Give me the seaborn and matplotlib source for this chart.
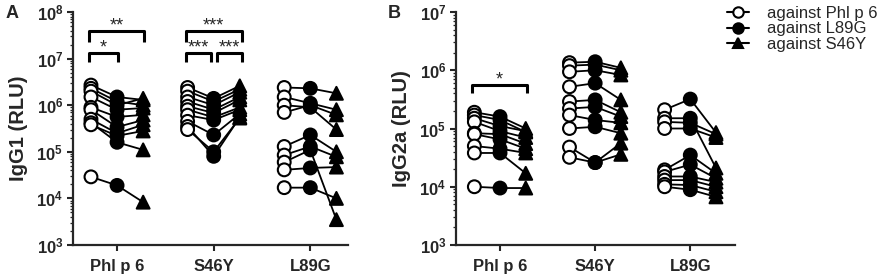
import numpy as np
import pandas as pd
import matplotlib
matplotlib.use("Agg")
import matplotlib.pyplot as plt
import seaborn as sns
from matplotlib.lines import Line2D
from matplotlib.ticker import LogLocator, NullFormatter

sns.set_style("ticks")
plt.rcParams["font.family"] = ["Liberation Sans", "DejaVu Sans"]
plt.rcParams["mathtext.fontset"] = "custom"
plt.rcParams["mathtext.rm"] = "Liberation Sans"
plt.rcParams["mathtext.bf"] = "Liberation Sans:bold"

# ---------------- data ----------------
groups = ["Phl p 6", "S46Y", "L89G"]
antigens = ["against Phl p 6", "against L89G", "against S46Y"]

# Panel A: IgG1
a_phl_vs_phl = [2.7e6, 2.3e6, 2.0e6, 1.5e6, 9.0e5, 8.0e5, 5.0e5, 4.2e5, 3.8e5, 2.9e4]
a_phl_vs_l89 = [1.5e6, 1.2e6, 1.0e6, 8.0e5, 5.6e5, 3.4e5, 2.5e5, 1.6e5, 2.2e5, 1.9e4]
a_phl_vs_s46 = [1.3e6, 1.0e6, 1.4e6, 8.7e5, 6.2e5, 4.8e5, 3.8e5, 1.1e5, 2.8e5, 8.3e3]

a_s46_vs_phl = [2.4e6, 2.0e6, 1.5e6, 1.2e6, 9.5e5, 8.0e5, 6.1e5, 4.5e5, 3.5e5, 3.0e5]
a_s46_vs_l89 = [1.4e6, 1.2e6, 1.0e6, 8.0e5, 6.8e5, 5.5e5, 4.8e5, 2.3e5, 8.0e4, 1.0e5]
a_s46_vs_s46 = [2.6e6, 2.2e6, 1.9e6, 1.5e6, 1.3e6, 9.0e5, 8.0e5, 6.5e5, 5.5e5, 5.3e5]

a_l89_vs_phl = [2.4e6, 1.5e6, 1.0e6, 7.0e5, 1.3e5, 8.5e4, 6.0e4, 4.1e4, 1.7e4]
a_l89_vs_l89 = [2.3e6, 1.1e6, 9.0e5, 1.0e6, 2.3e5, 1.3e5, 1.1e5, 4.5e4, 1.7e4]
a_l89_vs_s46 = [1.8e6, 8.0e5, 3.0e5, 6.2e5, 1.0e5, 7.8e4, 3.5e3, 4.7e4, 1.0e4]

# Panel B: IgG2a
b_phl_vs_phl = [1.9e5, 1.7e5, 1.5e5, 1.3e5, 8.3e4, 8.0e4, 5.0e4, 3.8e4, 1.0e4]
b_phl_vs_l89 = [1.6e5, 1.4e5, 1.1e5, 9.0e4, 8.0e4, 6.5e4, 4.5e4, 3.8e4, 9.5e3]
b_phl_vs_s46 = [1.0e5, 8.7e4, 9.0e4, 7.0e4, 5.5e4, 4.5e4, 3.8e4, 1.7e4, 9.5e3]

b_s46_vs_phl = [1.35e6, 1.2e6, 9.4e5, 5.2e5, 2.9e5, 2.2e5, 1.7e5, 1.0e5, 4.8e4, 3.2e4]
b_s46_vs_l89 = [1.4e6, 1.25e6, 1.0e6, 6.0e5, 3.1e5, 2.35e5, 1.4e5, 1.07e5, 2.6e4, 2.6e4]
b_s46_vs_s46 = [1.1e6, 1.0e6, 8.3e5, 3.1e5, 1.9e5, 1.6e5, 1.25e5, 8.3e4, 5.6e4, 3.6e4]

b_l89_vs_phl = [2.1e5, 1.5e5, 1.3e5, 1.0e5, 1.95e4, 1.8e4, 1.5e4, 1.3e4, 1.1e4, 1.0e4]
b_l89_vs_l89 = [3.2e5, 1.5e5, 1.25e5, 1.0e5, 3.5e4, 2.4e4, 1.5e4, 1.3e4, 1.07e4, 8.9e3]
b_l89_vs_s46 = [8.5e4, 2.1e4, 8.0e4, 7.0e4, 1.7e4, 1.4e4, 1.2e4, 1.0e4, 8.2e3, 6.7e3]

panel_a = {
    "Phl p 6": (a_phl_vs_phl, a_phl_vs_l89, a_phl_vs_s46),
    "S46Y": (a_s46_vs_phl, a_s46_vs_l89, a_s46_vs_s46),
    "L89G": (a_l89_vs_phl, a_l89_vs_l89, a_l89_vs_s46),
}
panel_b = {
    "Phl p 6": (b_phl_vs_phl, b_phl_vs_l89, b_phl_vs_s46),
    "S46Y": (b_s46_vs_phl, b_s46_vs_l89, b_s46_vs_s46),
    "L89G": (b_l89_vs_phl, b_l89_vs_l89, b_l89_vs_s46),
}

offsets = [-0.27, 0.0, 0.27]


def build(panel):
    rows = []
    for gi, g in enumerate(groups):
        for ai, a in enumerate(antigens):
            for mi, v in enumerate(panel[g][ai]):
                rows.append(dict(group=g, antigen=a, mouse=f"{g}-{mi}",
                                 x=gi + offsets[ai], value=v))
    return pd.DataFrame(rows)


palette = {antigens[0]: "white", antigens[1]: "black", antigens[2]: "black"}
markers = {antigens[0]: "o", antigens[1]: "o", antigens[2]: "^"}

W, H = 895, 276
fig = plt.figure(figsize=(W / 100, H / 100), dpi=100)
axA = fig.add_axes([73 / W, 31 / H, 275 / W, 233 / H])
axB = fig.add_axes([456 / W, 31 / H, 279 / W, 233 / H])


def draw(ax, panel, ylim, xlim, ylabel):
    df = build(panel)
    ax.set_yscale("log")
    sns.lineplot(data=df, x="x", y="value", units="mouse", estimator=None,
                 sort=False, color="black", lw=1.3, ax=ax, legend=False, zorder=2)
    sns.scatterplot(data=df, x="x", y="value", hue="antigen", style="antigen",
                    palette=palette, markers=markers, s=85, edgecolor="black",
                    linewidth=1.5, ax=ax, legend=False, zorder=3)
    ax.set_ylim(*ylim)
    ax.set_xlim(*xlim)
    lo, hi = int(np.log10(ylim[0])), int(np.log10(ylim[1]))
    exps = list(range(lo, hi + 1))
    ax.set_yticks([10.0 ** e for e in exps])
    ax.set_yticklabels([r"$\mathbf{10^{%d}}$" % e for e in exps], fontsize=12)
    ax.yaxis.set_minor_locator(LogLocator(base=10, subs=np.arange(2, 10), numticks=20))
    ax.yaxis.set_minor_formatter(NullFormatter())
    ax.set_xticks([0, 1, 2])
    ax.set_xticklabels(groups, fontsize=12, fontweight="bold")
    ax.set_xlabel("")
    ax.set_ylabel(ylabel, fontsize=14.5, fontweight="bold", labelpad=6)
    sns.despine(ax=ax)
    for s in ["left", "bottom"]:
        ax.spines[s].set_linewidth(1.6)
    ax.tick_params(axis="both", which="major", length=4, width=1.5, pad=3)
    ax.tick_params(axis="y", which="minor", length=2.5, width=0.9)
    ax.tick_params(axis="x", which="major", pad=6)


def bracket(ax, x1, x2, y_line, y_leg, star):
    ax.plot([x1, x1, x2, x2], [y_leg, y_line, y_line, y_leg], color="black",
            lw=2.2, clip_on=False, solid_capstyle="butt", zorder=4)
    ax.text((x1 + x2) / 2, y_line * 1.03, star, ha="center", va="baseline",
            fontsize=13, clip_on=False)


draw(axA, panel_a, (1e3, 1e8), (-0.456, 2.39), "IgG1 (RLU)")
draw(axB, panel_b, (1e3, 1e7), (-0.463, 2.47), "IgG2a (RLU)")

# significance brackets
bracket(axA, -0.29, 0.01, 10 ** 7.12, 10 ** 6.93, "*")
bracket(axA, -0.29, 0.28, 10 ** 7.59, 10 ** 7.36, "**")
bracket(axA, 0.71, 1.29, 10 ** 7.59, 10 ** 7.36, "***")
bracket(axA, 0.71, 0.97, 10 ** 7.12, 10 ** 6.93, "***")
bracket(axA, 1.03, 1.29, 10 ** 7.12, 10 ** 6.93, "***")
bracket(axB, -0.29, 0.28, 10 ** 5.75, 10 ** 5.61, "*")

# panel letters
fig.text(6 / W, 1 - 13 / H, "A", fontsize=13, fontweight="bold", va="center")
fig.text(388 / W, 1 - 13 / H, "B", fontsize=13, fontweight="bold", va="center")

# legend
handles = [
    Line2D([], [], color="black", lw=1.5, marker="o", mfc="white", mec="black", mew=1.5, ms=7.5),
    Line2D([], [], color="black", lw=1.5, marker="o", mfc="black", mec="black", mew=1.5, ms=7.5),
    Line2D([], [], color="black", lw=1.5, marker="^", mfc="black", mec="black", mew=1.5, ms=7.5),
]
fig.legend(handles, antigens, loc="upper left", bbox_to_anchor=(727 / W, 1 - 6 / H),
           frameon=False, fontsize=12, handlelength=1.3, labelspacing=0.02,
           handletextpad=1.1, borderaxespad=0, borderpad=0)

fig.savefig("out.png", dpi=100)
